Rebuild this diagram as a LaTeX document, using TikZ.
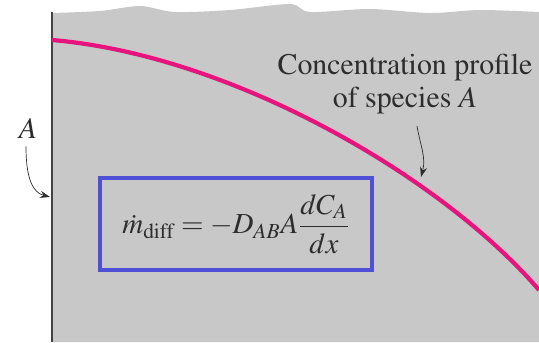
\documentclass[tikz,border=0pt]{standalone}
\usepackage{mathptmx}
\usepackage[no-math]{fontspec}
\setmainfont{Liberation Serif}
\usetikzlibrary{arrows.meta}
\definecolor{Wall}{RGB}{200,200,200}
\definecolor{Profile}{RGB}{230,20,125}
\definecolor{Frame}{RGB}{80,80,215}
\definecolor{Ink}{RGB}{45,45,45}

\begin{document}
\begin{tikzpicture}[x=0.2mm,y=-0.2mm,
    label/.style={text=Ink,font=\fontencoding{OT1}\fontfamily{ptm}\fontsize{17}{18.5}\selectfont,align=center,inner sep=0pt},
    formula/.style={draw=Frame,line width=2pt,minimum width=272*0.2mm,minimum height=92*0.2mm,font=\fontsize{16.5}{19}\selectfont,text=Ink},
    pointer/.style={-{Stealth[length=2mm,width=1.4mm]},thin,draw=Ink}
]
\useasboundingbox (0,0) rectangle (539,342);

% Medium (gray region with torn top edge)
\fill[Wall] (52,342) -- plot[smooth] coordinates {(52,13) (100,11) (140,6) (175,12) (230,10) (290,4) (310,12) (370,9) (430,13) (480,10) (539,12)}
    -- (539,342) -- cycle;
\draw[Ink!90,line width=1.1pt] (52,12) -- (52,342);

% Concentration profile
\draw[Profile,line width=2.4pt] (52,40) .. controls (230,55) and (440,175) .. (539,290);
\coordinate (hit) at (421,177);
\coordinate (wall) at (50,197);

% Labels
\node[label] (profile) at (405,84) {Concentration profile\\of species \textit{A}};
\node[label] (area) at (28,128) {\textit{A}};

% Flux law
\node[formula] (law) at (236,224) {$\dot m_{\mathrm{diff}} = -D_{AB}A\displaystyle\frac{dC_A}{dx}$};

% Pointers
\draw[pointer] (area.south) ++(-2,8) to[out=-90,in=165] (wall);
\draw[pointer] (profile.south) ++(12,12) to[out=-80,in=75] (hit);

\end{tikzpicture}
\end{document}
